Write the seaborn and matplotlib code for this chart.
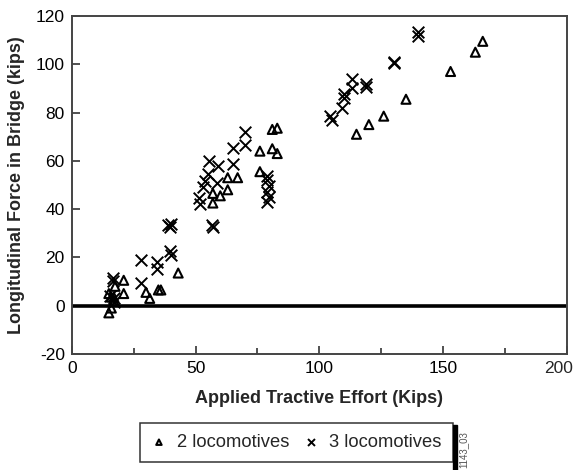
#!/usr/bin/env python3
"""Longitudinal bridge force vs applied tractive effort."""

import matplotlib.pyplot as plt
import pandas as pd
import seaborn as sns
from matplotlib.patches import Rectangle
from matplotlib.ticker import MultipleLocator

# 2 locomotives (triangles)
effort_2 = [15, 16, 17, 16, 17, 15, 17.5, 21, 21, 30, 31.5, 35, 36, 43,
            57, 57, 60, 63, 63, 67, 76, 76, 81, 83, 81, 83,
            115, 120, 126, 135, 153, 163, 166]
force_2 = [-3, -1, 2, 3.5, 3.5, 5, 8, 10.5, 5, 5.5, 3, 6.5, 6.5, 13.5,
           42.5, 46.5, 45.5, 48, 53, 53, 55.5, 64, 65, 63, 73, 73.5,
           71, 75, 78.5, 85.5, 97, 105, 109.5]

# 3 locomotives (crosses)
effort_3 = [16.5, 16.5, 15.5, 17, 17,
            28, 28, 34.5, 34.5, 39.5, 40, 39, 39.5, 40,
            56.5, 57,
            51.5, 52, 53, 54, 55, 55.5, 58.5, 59, 65, 65, 70, 70,
            79, 79, 79.5, 79, 79.5, 79,
            104.5, 105, 109, 110, 110, 113, 113, 119, 119,
            130, 130, 140, 140]
force_3 = [11.5, 10, 4, 1.5, 3,
           19, 9.5, 18, 15, 22.5, 21, 33.5, 32.5, 34,
           33.5, 32.5,
           44.5, 42, 49, 51.5, 54.5, 60, 51, 58, 58.5, 65.5, 66.5, 72,
           53.5, 52, 49.5, 47, 45, 43,
           78.5, 77, 82, 86, 87.5, 90, 94, 92, 90.5,
           101, 100.5, 113.5, 111.5]

x_ticks = [0, 50, 100, 150, 200]
x_tick_labels = ["0", "50", "100", "150", "200"]

sns.set_style("white")
plt.rcParams["font.family"] = ["Liberation Sans", "DejaVu Sans"]
plt.rcParams["axes.unicode_minus"] = False

df2 = pd.DataFrame({"effort": effort_2, "force": force_2})
df3 = pd.DataFrame({"effort": effort_3, "force": force_3})

fig = plt.figure(figsize=(5.75, 4.7), dpi=100)
ax = fig.add_axes([0.1247, 0.247, 0.8613, 0.719])

ax.axhline(0, color="black", linewidth=2.6, zorder=1)

sns.scatterplot(data=df2, x="effort", y="force", ax=ax, marker="^", s=42,
                facecolor="none", edgecolor="black", linewidth=1.5,
                label="2 locomotives", zorder=3)
sns.scatterplot(data=df3, x="effort", y="force", ax=ax, marker="x", s=70,
                color="black", linewidth=1.4, label="3 locomotives", zorder=3)

ax.set_xlim(0, 200)
ax.set_ylim(-20, 120)
ax.set_xticks(x_ticks)
# last label is drawn by hand so it stays inside the canvas
ax.set_xticklabels(x_tick_labels[:-1] + [""])
ax.xaxis.set_minor_locator(MultipleLocator(25))
ax.yaxis.set_major_locator(MultipleLocator(20))
ax.tick_params(which="both", direction="in", bottom=True, left=True,
               color="#333333", width=1.2, labelsize=12.5, labelcolor="black")
ax.tick_params(which="major", length=6, pad=5)
ax.tick_params(axis="x", which="minor", length=4)
for spine in ax.spines.values():
    spine.set_color("#444444")
    spine.set_linewidth(1.4)

ax.annotate(x_tick_labels[-1], xy=(x_ticks[-1], 0),
            xycoords=("data", "axes fraction"), xytext=(6, -7),
            textcoords="offset pixels", ha="right", va="top", fontsize=12.5)

ax.set_xlabel("Applied Tractive Effort (Kips)", fontsize=13, fontweight="bold",
              labelpad=10)
ax.set_ylabel("Longitudinal Force in Bridge (kips)", fontsize=13,
              fontweight="bold", labelpad=8)

handles, labels = ax.get_legend_handles_labels()
ax.get_legend().remove()
leg = fig.legend(handles, labels, loc="center", bbox_to_anchor=(0.5157, 0.0585),
                 ncol=2, frameon=True, fancybox=False, edgecolor="black",
                 fontsize=13.2, markerscale=0.6, handlelength=0.8,
                 handletextpad=0.6, columnspacing=0.75, borderpad=0.62)
leg.get_frame().set_linewidth(1.1)

fig.canvas.draw()
bb = leg.get_window_extent().transformed(fig.transFigure.inverted())
fig.patches.append(Rectangle((bb.x1, -0.05), 0.007, bb.y1 - 0.004 + 0.05,
                             transform=fig.transFigure, color="black",
                             zorder=0))
fig.text(bb.x1 + 0.019, 0.004, "1143_03", rotation=90, fontsize=7,
         color="#555555", ha="center", va="bottom")

fig.savefig("out.png", dpi=100)
